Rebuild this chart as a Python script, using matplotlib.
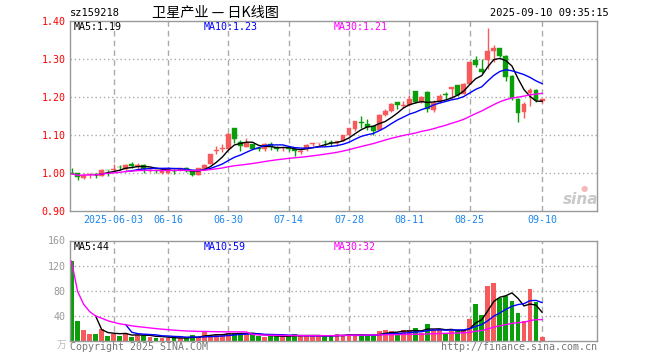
import numpy as np
import pandas as pd
import matplotlib
matplotlib.use('Agg')
import matplotlib.pyplot as plt

# daily candles, 2025-05-22 .. 2025-09-10
opens = [1.000, 1.000, 0.988, 0.995, 0.997, 0.993, 1.009, 1.008, 1.017, 1.011,
         1.024, 1.018, 1.022, 1.005, 1.009, 1.001, 1.000, 1.006, 1.007, 1.014,
         1.004, 0.996, 1.011, 1.024, 1.059, 1.064, 1.063, 1.118, 1.081, 1.069,
         1.076, 1.066, 1.062, 1.076, 1.069, 1.065, 1.066, 1.063, 1.056, 1.062,
         1.077, 1.078, 1.082, 1.081, 1.078, 1.085, 1.099, 1.117, 1.134, 1.129,
         1.123, 1.114, 1.153, 1.162, 1.187, 1.177, 1.178, 1.217, 1.188, 1.214,
         1.167, 1.186, 1.208, 1.221, 1.231, 1.209, 1.235, 1.298, 1.275, 1.298,
         1.322, 1.329, 1.309, 1.256, 1.196, 1.161, 1.211, 1.219, 1.190]
highs = [1.013, 1.001, 1.000, 1.001, 1.000, 1.011, 1.009, 1.024, 1.022, 1.023,
         1.030, 1.026, 1.023, 1.011, 1.011, 1.006, 1.012, 1.010, 1.013, 1.015,
         1.005, 1.013, 1.023, 1.051, 1.070, 1.076, 1.104, 1.119, 1.087, 1.092,
         1.077, 1.069, 1.079, 1.081, 1.070, 1.070, 1.069, 1.066, 1.060, 1.076,
         1.080, 1.080, 1.087, 1.087, 1.083, 1.101, 1.118, 1.136, 1.151, 1.143,
         1.123, 1.154, 1.168, 1.183, 1.188, 1.189, 1.204, 1.217, 1.203, 1.215,
         1.193, 1.208, 1.212, 1.227, 1.231, 1.236, 1.292, 1.309, 1.300, 1.382,
         1.338, 1.330, 1.310, 1.257, 1.197, 1.188, 1.224, 1.222, 1.197]
lows = [0.997, 0.982, 0.983, 0.986, 0.987, 0.991, 0.991, 1.004, 1.008, 1.009,
        1.013, 1.011, 1.000, 1.002, 1.000, 0.997, 0.998, 0.997, 1.005, 1.002,
        0.992, 0.994, 1.009, 1.023, 1.050, 1.054, 1.062, 1.079, 1.057, 1.068,
        1.063, 1.057, 1.059, 1.061, 1.058, 1.059, 1.058, 1.046, 1.050, 1.058,
        1.071, 1.070, 1.070, 1.072, 1.071, 1.083, 1.098, 1.110, 1.118, 1.114,
        1.100, 1.112, 1.150, 1.160, 1.169, 1.171, 1.176, 1.184, 1.184, 1.160,
        1.160, 1.184, 1.193, 1.197, 1.202, 1.207, 1.234, 1.279, 1.263, 1.274,
        1.292, 1.305, 1.241, 1.191, 1.133, 1.145, 1.177, 1.188, 1.185]
closes = [0.998, 0.990, 0.995, 0.997, 0.995, 1.009, 1.008, 1.010, 1.015, 1.021,
          1.018, 1.021, 1.011, 1.009, 1.004, 1.005, 1.011, 1.004, 1.012, 1.004,
          0.995, 1.012, 1.022, 1.050, 1.061, 1.065, 1.103, 1.090, 1.070, 1.078,
          1.064, 1.062, 1.077, 1.068, 1.062, 1.066, 1.064, 1.057, 1.058, 1.075,
          1.079, 1.079, 1.081, 1.079, 1.083, 1.101, 1.118, 1.136, 1.131, 1.120,
          1.110, 1.153, 1.164, 1.182, 1.178, 1.178, 1.196, 1.188, 1.199, 1.168,
          1.184, 1.203, 1.206, 1.226, 1.206, 1.235, 1.291, 1.283, 1.267, 1.322,
          1.329, 1.307, 1.253, 1.197, 1.158, 1.182, 1.218, 1.191, 1.195]
volumes = [127, 31, 17, 11, 11, 19, 7.5, 11, 7.5, 13,
           6, 9, 9, 6, 5, 4.3, 4.3, 4.3, 4.3, 4.3,
           9, 6, 14, 9, 10, 9, 13, 13, 13, 10,
           11, 7, 6.4, 7, 7.5, 7, 7.5, 10.7, 7.5, 8.5,
           7.5, 7.5, 7.5, 7.5, 10.7, 8.5, 10.7, 8.5, 8.5, 8.5,
           8.5, 15.5, 17, 15.5, 11.7, 17, 16.5, 20, 13, 26.7,
           17, 18, 13, 15.5, 16.5, 16.5, 34.7, 58.7, 41, 87.5,
           92, 67.7, 71, 63.5, 44, 31.5, 82.7, 62.4, 6]
tick_idx = [7, 16, 26, 36, 46, 56, 66, 78]
tick_labels = ['2025-06-03', '06-16', '06-30', '07-14', '07-28', '08-11', '08-25', '09-10']
price_ticks = [0.90, 1.00, 1.10, 1.20, 1.30, 1.40]
vol_ticks = [40, 80, 120, 160]

RED = '#f65a5a'
GREEN = '#0a9e0a'
GRID = '#aaaaaa'
MONO = 'DejaVu Sans Mono'
W, H = 660.0, 360.0

x = np.arange(len(closes))
o = np.array(opens); c = np.array(closes)
hi = np.array(highs); lo = np.array(lows)
up = c >= o
colors = [RED if u else GREEN for u in up]

fig = plt.figure(figsize=(6.6, 3.6), dpi=100)
ax = fig.add_axes([70/W, 1-211/H, 527/W, 190/H])
axv = fig.add_axes([70/W, 1-340.7/H, 527/W, 100.2/H])

for a in (ax, axv):
    for s in a.spines.values():
        s.set_color('#999999')
        s.set_linewidth(1)
    a.set_xlim(-0.25, 87.1)
    for t in tick_idx:
        a.axvline(t, color=GRID, lw=1, ls=(0, (4, 3)), zorder=0)

# price panel
for p in [1.0, 1.1, 1.2, 1.3]:
    ax.axhline(p, color=GRID, lw=1, ls=(0, (1, 2)), zorder=0)
ax.vlines(x, lo, hi, colors=colors, lw=1, zorder=2)
body = np.maximum(np.abs(c - o), 0.0012)
ax.bar(x, body, bottom=np.minimum(o, c), width=0.8, color=colors,
       edgecolor=colors, lw=0.3, zorder=3)
s = pd.Series(closes)
ax.plot(x, s.rolling(5).mean(), color='black', lw=1, zorder=4)
ax.plot(x, s.rolling(10).mean(), color='#0000ff', lw=1, zorder=4)
ax.plot(x, s.rolling(30, min_periods=1).mean(), color='#ff00ff', lw=1, zorder=4)
ax.set_ylim(0.90, 1.40)
ax.set_yticks(price_ticks)
ax.set_yticklabels(['%.2f' % p for p in price_ticks], family=MONO, fontsize=7.2, color='red')
ax.set_xticks(tick_idx)
ax.set_xticklabels(tick_labels, family=MONO, fontsize=7.2, color='#1c86ee')
ax.tick_params(length=0, pad=3)

# volume panel
for v in [40, 80, 120]:
    axv.axhline(v, color=GRID, lw=1, ls=(0, (1, 2)), zorder=0)
axv.bar(x, volumes, width=0.8, color=colors, zorder=2)
sv = pd.Series(volumes)
axv.plot(x, sv.rolling(5).mean(), color='black', lw=1, zorder=3)
axv.plot(x, sv.rolling(10).mean(), color='#0000ff', lw=1, zorder=3)
axv.plot(x, sv.rolling(30, min_periods=1).mean(), color='#ff00ff', lw=1, zorder=3)
axv.set_ylim(0, 160)
axv.set_yticks(vol_ticks)
axv.set_yticklabels([str(v) for v in vol_ticks], family=MONO, fontsize=7.2, color='#999999')
axv.set_xticks([])
axv.tick_params(length=0, pad=3)


def txt(px, py, s, **kw):
    kw.setdefault('family', MONO)
    kw.setdefault('fontsize', 7.2)
    kw.setdefault('va', 'center')
    fig.text(px/W, 1-py/H, s, **kw)


# header
txt(70, 13, 'sz159218', fontsize=7.5)
txt(152, 13, '卫星产业 — 日K线图', family=['Noto Sans CJK SC', 'DejaVu Sans'], fontsize=10.2)
txt(609, 13, '2025-09-10 09:35:15', ha='right', fontsize=7.5)

# MA legends
txt(74, 27, 'MA5:1.19', color='black')
txt(204, 27, 'MA10:1.23', color='#0000ff')
txt(334, 27, 'MA30:1.21', color='#ff00ff')
txt(74, 247, 'MA5:44', color='black')
txt(204, 247, 'MA10:59', color='#0000ff')
txt(334, 247, 'MA30:32', color='#ff00ff')

# footer
txt(66, 345, '万', ha='right', family=['Noto Sans CJK SC', 'DejaVu Sans'],
    fontsize=7, color='#bbbbbb')
txt(70, 347, 'Copyright 2025 SINA.COM', color='#777777')
txt(597, 347, 'http://finance.sina.com.cn', ha='right', color='#777777')

# watermark
txt(581, 200, 'sina', ha='center', fontsize=11, style='italic', weight='bold',
    family='DejaVu Sans', color='#c8c8c8')
fig.text(584/W, 1-188/H, '●', ha='center', va='center', fontsize=6, color='#f4b8b8')

plt.savefig('out.png', dpi=100)
